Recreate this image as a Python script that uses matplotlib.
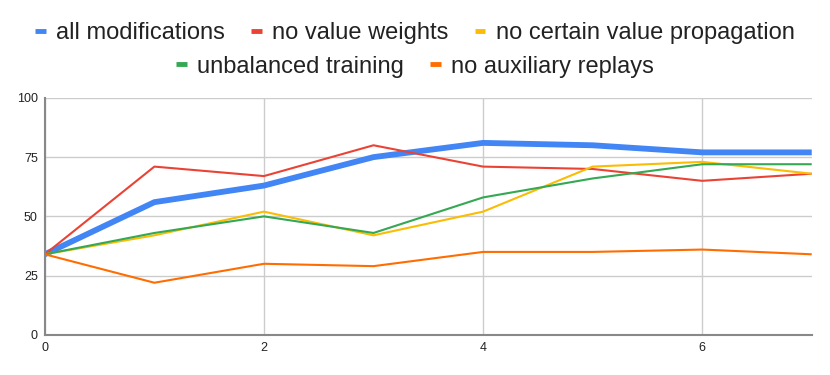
import matplotlib.pyplot as plt

# Data
steps = [0, 1, 2, 3, 4, 5, 6, 7]
all_mods = [34, 56, 63, 75, 81, 80, 77, 77]
no_value_weights = [34, 71, 67, 80, 71, 70, 65, 68]
no_certain_prop = [34, 42, 52, 42, 52, 71, 73, 68]
unbalanced = [34, 43, 50, 43, 58, 66, 72, 72]
no_aux_replays = [34, 22, 30, 29, 35, 35, 36, 34]

labels = ["all modifications", "no value weights", "no certain value propagation",
          "unbalanced training", "no auxiliary replays"]
colors = ["#4285F4", "#EA4335", "#FBBC04", "#34A853", "#FF6D01"]
series = [all_mods, no_value_weights, no_certain_prop, unbalanced, no_aux_replays]
widths = [4.2, 1.5, 1.5, 1.5, 1.5]

plt.rcParams['font.family'] = ['Liberation Sans', 'DejaVu Sans']

fig = plt.figure(figsize=(8.3, 3.75), dpi=100)
ax = fig.add_axes([0.054, 0.107, 0.924, 0.632])

lines = []
for vals, lab, col, lw in zip(series, labels, colors, widths):
    ln, = ax.plot(steps, vals, color=col, lw=lw, label=lab, solid_capstyle='butt')
    lines.append(ln)

ax.set_xlim(0, 7)
ax.set_ylim(0, 100)
ax.set_xticks([0, 2, 4, 6])
ax.set_yticks([0, 25, 50, 75, 100])
ax.grid(True, color='#cccccc', lw=1)
ax.set_axisbelow(True)
for s in ['top', 'right']:
    ax.spines[s].set_visible(False)
for s in ['left', 'bottom']:
    ax.spines[s].set_color('#888888')
    ax.spines[s].set_linewidth(1.5)
ax.tick_params(length=0, labelsize=9, colors='#222222', pad=5)

# two centered legend rows
leg_kw = dict(frameon=False, fontsize=17, handlelength=0.45, handletextpad=0.45,
              columnspacing=1.1, borderaxespad=0, labelcolor='#222222')
leg1 = fig.legend(lines[:3], labels[:3], ncol=3, loc='center',
                  bbox_to_anchor=(0.5, 0.912), **leg_kw)
leg2 = fig.legend(lines[3:], labels[3:], ncol=2, loc='center',
                  bbox_to_anchor=(0.5, 0.822), **leg_kw)
for leg in (leg1, leg2):
    for h in leg.legend_handles:
        h.set_linewidth(3.5)

fig.savefig('out.png', dpi=100)
